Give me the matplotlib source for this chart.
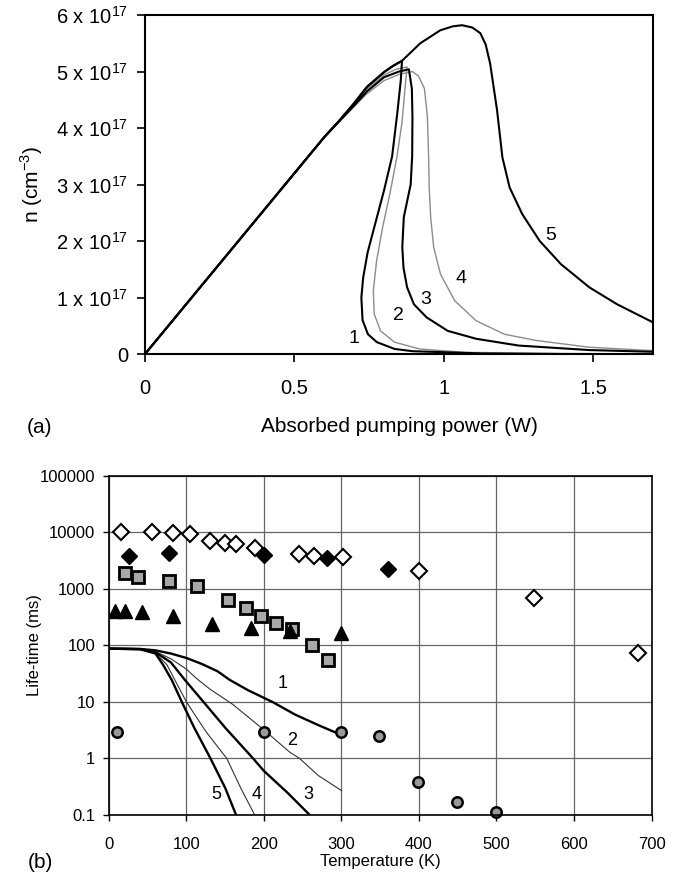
import matplotlib
matplotlib.use('Agg')
import matplotlib.pyplot as plt
from matplotlib.ticker import FixedLocator, FixedFormatter, NullLocator

plt.rcParams['font.family'] = ['Liberation Sans', 'DejaVu Sans']
plt.rcParams['mathtext.fontset'] = 'custom'
plt.rcParams['mathtext.rm'] = 'Liberation Sans'

# ---- panel (a): n vs absorbed pump power, n in units of 1e17 cm^-3 ----
rise_x = [0, 0.3, 0.5, 0.6, 0.65, 0.7, 0.743, 0.8]

c1_x = rise_x + [0.83, 0.86, 0.856, 0.845, 0.827, 0.80, 0.77, 0.745, 0.73, 0.724, 0.728,
                 0.746, 0.776, 0.835, 0.895, 1.13, 1.4, 1.7]
c1_y = [0, 1.92, 3.2, 3.84, 4.13, 4.44, 4.73, 4.99, 5.1, 5.19, 4.85, 4.3, 3.5, 2.9, 2.3, 1.8,
        1.35, 1.0, 0.6, 0.35, 0.21, 0.09, 0.05, 0.01, 0.0, 0.0]

c2_x = rise_x + [0.84, 0.877, 0.87, 0.86, 0.843, 0.82, 0.795, 0.775, 0.764, 0.767, 0.788,
                 0.835, 0.918, 1.07, 1.37, 1.7]
c2_y = [0, 1.92, 3.2, 3.84, 4.13, 4.42, 4.69, 4.94, 5.04, 5.08, 4.7, 4.1, 3.49, 2.85, 2.24,
        1.65, 1.12, 0.71, 0.41, 0.21, 0.09, 0.03, 0.01, 0.0]

c3_x = rise_x + [0.85, 0.883, 0.893, 0.895, 0.894, 0.889, 0.877, 0.866, 0.861, 0.865, 0.877,
                 0.90, 0.942, 1.013, 1.108, 1.25, 1.487, 1.7]
c3_y = [0, 1.92, 3.2, 3.84, 4.12, 4.4, 4.65, 4.9, 5.0, 5.04, 4.7, 4.2, 3.5, 3.0, 2.7, 2.42,
        1.89, 1.53, 1.18, 0.88, 0.65, 0.41, 0.27, 0.15, 0.07, 0.04]

c4_x = rise_x + [0.85, 0.895, 0.915, 0.935, 0.945, 0.949, 0.951, 0.956, 0.966, 0.989, 1.037,
                 1.108, 1.203, 1.309, 1.487, 1.7]
c4_y = [0, 1.92, 3.2, 3.84, 4.11, 4.38, 4.61, 4.84, 4.95, 5.0, 4.92, 4.7, 4.2, 3.5, 2.95, 2.42,
        1.89, 1.41, 0.94, 0.59, 0.35, 0.24, 0.12, 0.06]

c5_x = rise_x + [0.83, 0.86, 0.921, 0.988, 1.03, 1.061, 1.095, 1.122, 1.14, 1.155, 1.178,
                 1.196, 1.22, 1.262, 1.321, 1.392, 1.487, 1.58, 1.7]
c5_y = [0, 1.92, 3.2, 3.84, 4.13, 4.44, 4.73, 4.99, 5.1, 5.19, 5.5, 5.73, 5.8, 5.82, 5.78,
        5.68, 5.48, 5.14, 4.32, 3.48, 2.95, 2.48, 2.0, 1.59, 1.18, 0.88, 0.56]

a_labels = ['1', '2', '3', '4', '5']
a_label_x = [0.70, 0.847, 0.94, 1.058, 1.357]
a_label_y = [0.27, 0.68, 0.97, 1.33, 2.09]

a_yticks = [0, 1, 2, 3, 4, 5, 6]
a_yticklabels = ['0'] + ['%d x 10$^{17}$' % v for v in a_yticks[1:]]
a_xticks = [0, 0.5, 1, 1.5]
a_xticklabels = ['0', '0.5', '1', '1.5']

# ---- panel (b): life-time vs temperature ----
open_dia_T = [16, 55, 82, 105, 130, 150, 164, 189, 245, 265, 302, 400, 548, 682]
open_dia_v = [10300, 10300, 9800, 9300, 7130, 6500, 6240, 5290, 4150, 3870, 3700, 2100, 700, 75]

fill_dia_T = [26, 77, 200, 281, 360]
fill_dia_v = [3900, 4320, 4000, 3470, 2300]

square_T = [21, 37, 77, 114, 154, 177, 196, 216, 236, 262, 282]
square_v = [1910, 1620, 1400, 1140, 645, 470, 336, 255, 195, 102, 56]

tri_T = [8, 21, 43, 83, 133, 183, 233, 300]
tri_v = [411, 400, 390, 336, 242, 203, 178, 163]

circ_T = [10, 200, 300, 349, 399, 449, 499]
circ_v = [3.0, 3.0, 3.0, 2.5, 0.38, 0.17, 0.115]

b1_T = [0, 40, 60, 80, 100, 120, 140, 156, 180, 211, 240, 270, 300]
b1_v = [88, 87, 82, 72, 60, 47, 35, 24.5, 16, 10, 6, 3.9, 2.6]
b2_T = [0, 40, 60, 80, 100, 113, 130, 160, 200, 233, 246, 270, 300]
b2_v = [88, 86, 78, 58, 38, 26, 17, 9, 3.2, 1.3, 1.0, 0.5, 0.27]
b3_T = [0, 40, 60, 80, 98, 122, 150, 186, 200, 230, 259]
b3_v = [88, 86, 76, 50, 24.5, 10, 3.5, 1.0, 0.6, 0.25, 0.1]
b4_T = [0, 40, 60, 75, 85, 100, 125, 152, 170, 188]
b4_v = [88, 86, 74, 45, 24.5, 10, 3.0, 1.0, 0.3, 0.1]
b5_T = [0, 40, 60, 70, 81, 94, 110, 131, 150, 164]
b5_v = [88, 86, 72, 45, 24.5, 10, 3.5, 1.0, 0.3, 0.1]

b_labels = ['1', '2', '3', '4', '5']
b_label_T = [224, 236, 257, 190, 139]
b_label_v = [21, 2.1, 0.23, 0.23, 0.23]

b_yticks = [0.1, 1, 10, 100, 1000, 10000, 100000]
b_yticklabels = ['0.1', '1', '10', '100', '1000', '10000', '100000']
b_xticks = [0, 100, 200, 300, 400, 500, 600, 700]


fig = plt.figure(figsize=(6.85, 8.75), dpi=100)

# panel (a)
ax1 = fig.add_axes([0.2117, 0.5954, 0.7416, 0.3874])
ax1.plot(c4_x, c4_y, color='#8c8c8c', lw=1.0)
ax1.plot(c2_x, c2_y, color='#8c8c8c', lw=1.0)
ax1.plot(c1_x, c1_y, color='black', lw=1.5)
ax1.plot(c3_x, c3_y, color='black', lw=1.5)
ax1.plot(c5_x, c5_y, color='black', lw=1.5)
for lab, x, y in zip(a_labels, a_label_x, a_label_y):
    ax1.text(x, y, lab, fontsize=14, ha='center', va='center')
ax1.set_xlim(0, 1.7)
ax1.set_ylim(0, 6)
ax1.xaxis.set_major_locator(FixedLocator(a_xticks))
ax1.xaxis.set_major_formatter(FixedFormatter(a_xticklabels))
ax1.yaxis.set_major_locator(FixedLocator(a_yticks))
ax1.yaxis.set_major_formatter(FixedFormatter(a_yticklabels))
ax1.tick_params(direction='out', length=6, width=1.2, labelsize=14.5)
ax1.tick_params(axis='x', pad=12)
ax1.tick_params(axis='y', pad=6)
for s in ax1.spines.values():
    s.set_linewidth(1.5)
ax1.set_xlabel('Absorbed pumping power (W)', fontsize=15, labelpad=14)
ax1.set_ylabel('n (cm$^{-3}$)', fontsize=15, labelpad=8)
fig.text(40 / 685, 1 - 428 / 875, '(a)', fontsize=15, ha='center', va='center')

# panel (b)
ax2 = fig.add_axes([0.1591, 0.0686, 0.792, 0.3874])
ax2.set_yscale('log')
ax2.set_xlim(0, 700)
ax2.set_ylim(0.1, 100000)
ax2.grid(True, which='major', color='#666666', lw=0.9)
ax2.set_axisbelow(True)
ax2.plot(b2_T, b2_v, color='#333333', lw=0.8)
ax2.plot(b4_T, b4_v, color='#333333', lw=0.8)
ax2.plot(b1_T, b1_v, color='black', lw=1.7)
ax2.plot(b3_T, b3_v, color='black', lw=1.7)
ax2.plot(b5_T, b5_v, color='black', lw=1.7)
ax2.plot(open_dia_T, open_dia_v, 'D', ms=8, mfc='white', mec='black', mew=1.5, ls='none')
ax2.plot(fill_dia_T, fill_dia_v, 'D', ms=8, mfc='black', mec='black', ls='none')
ax2.plot(square_T, square_v, 's', ms=8, mfc='#a8a8a8', mec='black', mew=2.0, ls='none')
ax2.plot(tri_T, tri_v, '^', ms=10, mfc='black', mec='black', ls='none')
ax2.plot(circ_T, circ_v, 'o', ms=7.5, mfc='#999999', mec='black', mew=1.8, ls='none', clip_on=False)
for lab, x, y in zip(b_labels, b_label_T, b_label_v):
    ax2.text(x, y, lab, fontsize=13, ha='center', va='center')
ax2.yaxis.set_major_locator(FixedLocator(b_yticks))
ax2.yaxis.set_major_formatter(FixedFormatter(b_yticklabels))
ax2.yaxis.set_minor_locator(NullLocator())
ax2.set_xticks(b_xticks)
ax2.tick_params(direction='out', length=4, width=1.0, labelsize=12)
ax2.tick_params(axis='x', pad=12)
ax2.tick_params(axis='y', pad=6)
for s in ax2.spines.values():
    s.set_linewidth(1.2)
ax2.set_xlabel('Temperature (K)', fontsize=12, labelpad=1)
ax2.set_ylabel('Life-time (ms)', fontsize=12, labelpad=-2)
fig.text(40 / 685, 1 - 862 / 875, '(b)', fontsize=15, ha='center', va='center')

fig.savefig('out.png', dpi=100)
